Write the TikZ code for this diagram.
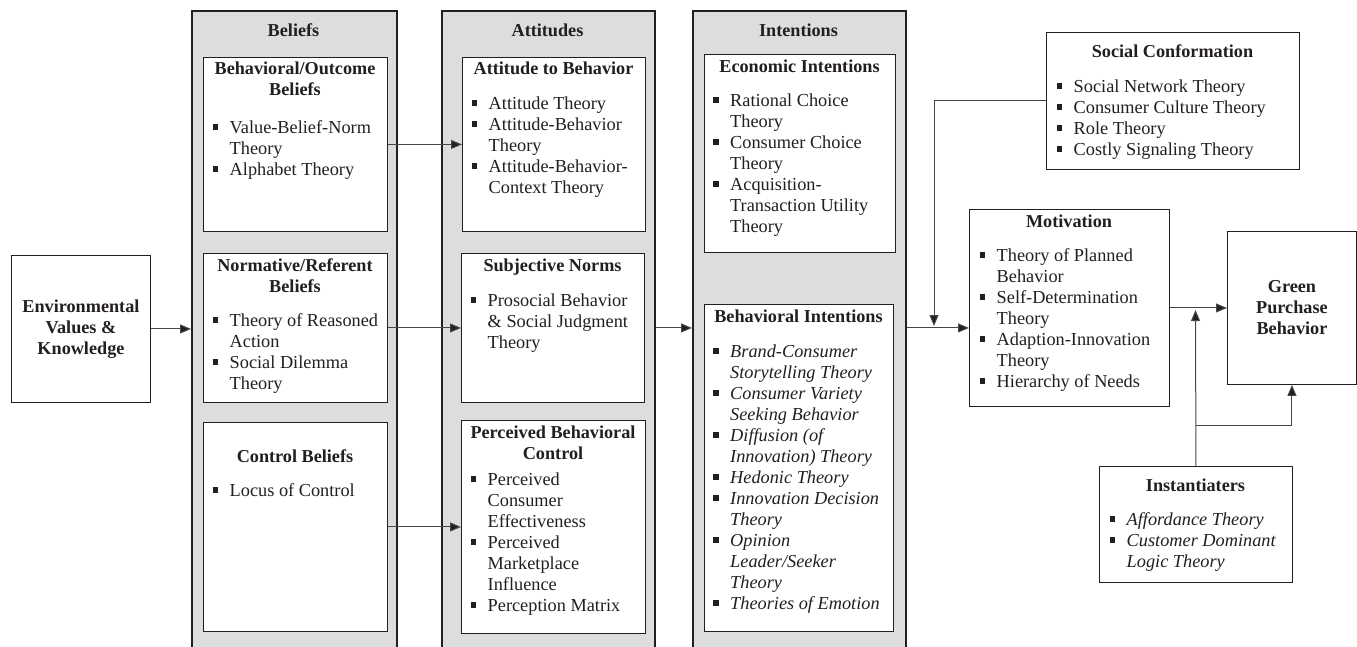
\documentclass[tikz,border=0pt]{standalone}
\usepackage{fontspec}
\setmainfont{Liberation Serif}
\usetikzlibrary{arrows.meta}
\definecolor{colfill}{RGB}{220,221,223}
\definecolor{ink}{RGB}{35,31,32}
\definecolor{linegray}{RGB}{70,70,70}
\newcommand\bi{\par\hangindent=17pt\hangafter=1\noindent\makebox[17pt][l]{\rule[3.5pt]{5.5pt}{5.5pt}}\ignorespaces}
\newcommand\blist[1]{\vtop{\hsize=240pt\parindent=0pt\parskip=0pt\raggedright\fontsize{18.3}{21}\selectfont #1\par}}
\newcommand\ttl[1]{\vtop{\hsize=240pt\parindent=0pt\parskip=0pt\centering\fontsize{18.2}{21}\selectfont\bfseries #1\par}}
\begin{document}
\begin{tikzpicture}[x=1pt,y=-1pt,
  col/.style={draw=ink, line width=1.9pt, fill=colfill, inner sep=0pt, anchor=north west},
  bx/.style={draw=ink, line width=0.9pt, fill=white, inner sep=0pt, anchor=north west},
  ttlnode/.style={inner sep=0pt, anchor=base, text=ink},
  lstnode/.style={inner sep=0pt, anchor=base west, text=ink},
  arr/.style={draw=linegray, line width=1pt, -{Triangle[length=11pt,width=9pt,fill=ink]}},
  ctext/.style={inner sep=0pt, align=center, text=ink, font=\fontsize{18.2}{21}\selectfont\bfseries}]
\useasboundingbox (0,0) rectangle (1357,646);
\clip (0,0) rectangle (1357,646);
% columns
\node[col, minimum width=205pt, minimum height=660pt] (bel) at (191,10) {};
\node[col, minimum width=213pt, minimum height=660pt] (att) at (441,10) {};
\node[col, minimum width=213pt, minimum height=660pt] (int) at (692,10) {};
\node[ttlnode] (belT) at (293.5,36) {\ttl{Beliefs}};
\node[ttlnode] (attT) at (547.5,36) {\ttl{Attitudes}};
\node[ttlnode] (intT) at (798.5,36) {\ttl{Intentions}};
% environmental
\node[bx, minimum width=139pt, minimum height=147pt] (env) at (11,255) {};
\node[ctext] (envT) at (env.center) {Environmental\\Values \&\\Knowledge};
% beliefs boxes
\node[bx, minimum width=184pt, minimum height=174pt] (bob) at (203,57) {};
\node[ttlnode] (bobT) at (295,74) {\ttl{Behavioral/Outcome\\Beliefs}};
\node[lstnode] (bobL) at (212.5,133) {\blist{\bi Value-Belief-Norm\newline Theory\bi Alphabet Theory}};
\node[bx, minimum width=184pt, minimum height=149pt] (nrb) at (203,253) {};
\node[ttlnode] (nrbT) at (295,271) {\ttl{Normative/Referent\\Beliefs}};
\node[lstnode] (nrbL) at (212.5,326) {\blist{\bi Theory of Reasoned\newline Action\bi Social Dilemma\newline Theory}};
\node[bx, minimum width=184pt, minimum height=209pt] (cb) at (203,422) {};
\node[ttlnode] (cbT) at (295,462) {\ttl{Control Beliefs}};
\node[lstnode] (cbL) at (212.5,496) {\blist{\bi Locus of Control}};
% attitudes boxes
\node[bx, minimum width=183pt, minimum height=174pt] (atb) at (462,57) {};
\node[ttlnode] (atbT) at (553.5,74) {\ttl{Attitude to Behavior}};
\node[lstnode] (atbL) at (471.5,109) {\blist{\bi Attitude Theory\bi Attitude-Behavior\newline Theory\bi Attitude-Behavior-\newline Context Theory}};
\node[bx, minimum width=183pt, minimum height=149pt] (sn) at (461,253) {};
\node[ttlnode] (snT) at (552.5,271) {\ttl{Subjective Norms}};
\node[lstnode] (snL) at (470.5,306) {\blist{\bi Prosocial Behavior\newline \& Social Judgment\newline Theory}};
\node[bx, minimum width=184pt, minimum height=213pt] (pbc) at (461,420) {};
\node[ttlnode] (pbcT) at (553,438) {\ttl{Perceived Behavioral\\Control}};
\node[lstnode] (pbcL) at (470.5,485) {\blist{\bi Perceived\newline Consumer\newline Effectiveness\bi Perceived\newline Marketplace\newline Influence\bi Perception Matrix}};
% intentions boxes
\node[bx, minimum width=191pt, minimum height=198pt] (ei) at (704,54) {};
\node[ttlnode] (eiT) at (799.5,72) {\ttl{Economic Intentions}};
\node[lstnode] (eiL) at (713,106) {\blist{\bi Rational Choice\newline Theory\bi Consumer Choice\newline Theory\bi Acquisition-\newline Transaction Utility\newline Theory}};
\node[bx, minimum width=189pt, minimum height=327pt] (bin) at (704,304) {};
\node[ttlnode] (binT) at (798.5,322) {\ttl{Behavioral Intentions}};
\node[lstnode] (binL) at (713,357) {\blist{\itshape\bi Brand-Consumer\newline Storytelling Theory\bi Consumer Variety\newline Seeking Behavior\bi Diffusion (of\newline Innovation) Theory\bi Hedonic Theory\bi Innovation Decision\newline Theory\bi Opinion\newline Leader/Seeker\newline Theory\bi Theories of Emotion}};
% right side
\node[bx, minimum width=253pt, minimum height=137pt] (sc) at (1046,32) {};
\node[ttlnode] (scT) at (1172.5,57) {\ttl{Social Conformation}};
\node[lstnode] (scL) at (1056.5,92) {\blist{\bi Social Network Theory\bi Consumer Culture Theory\bi Role Theory\bi Costly Signaling Theory}};
\node[bx, minimum width=200pt, minimum height=197pt] (mot) at (969,209) {};
\node[ttlnode] (motT) at (1069,227) {\ttl{Motivation}};
\node[lstnode] (motL) at (979.5,261) {\blist{\bi Theory of Planned\newline Behavior\bi Self-Determination\newline Theory\bi Adaption-Innovation\newline Theory\bi Hierarchy of Needs}};
\node[bx, minimum width=129pt, minimum height=153pt] (grn) at (1227,231) {};
\node[ctext] (grnT) at (grn.center) {Green\\Purchase\\Behavior};
\node[bx, minimum width=193pt, minimum height=116pt] (ins) at (1099,466) {};
\node[ttlnode] (insT) at (1195.5,491) {\ttl{Instantiaters}};
\node[lstnode] (insL) at (1109.5,525) {\blist{\itshape\bi Affordance Theory\bi Customer Dominant\newline Logic Theory}};
% connectors
\draw[arr] (env.east) -- (env.east -| bel.west);
\draw[arr] (bob.east) -- (bob.east -| atb.west);
\draw[arr] (nrb.east) -- (nrb.east -| sn.west);
\draw[arr] (cb.east) -- (cb.east -| pbc.west);
\draw[arr] (sn.east -| att.east) -- (sn.east -| int.west);
\draw[arr] (sn.east -| int.east) -- (sn.east -| mot.west);
\coordinate (j1) at (934,326);
\draw[arr] (sc.west) -| (j1);
\draw[arr] (mot.east) -- (grn.west);
\coordinate (j3) at (1195.5,310);
\draw[arr] (ins.north) -- (j3);
\coordinate (j2) at (1195.5,425);
\draw[arr] (j2) -| (grn.south);
\end{tikzpicture}
\end{document}
